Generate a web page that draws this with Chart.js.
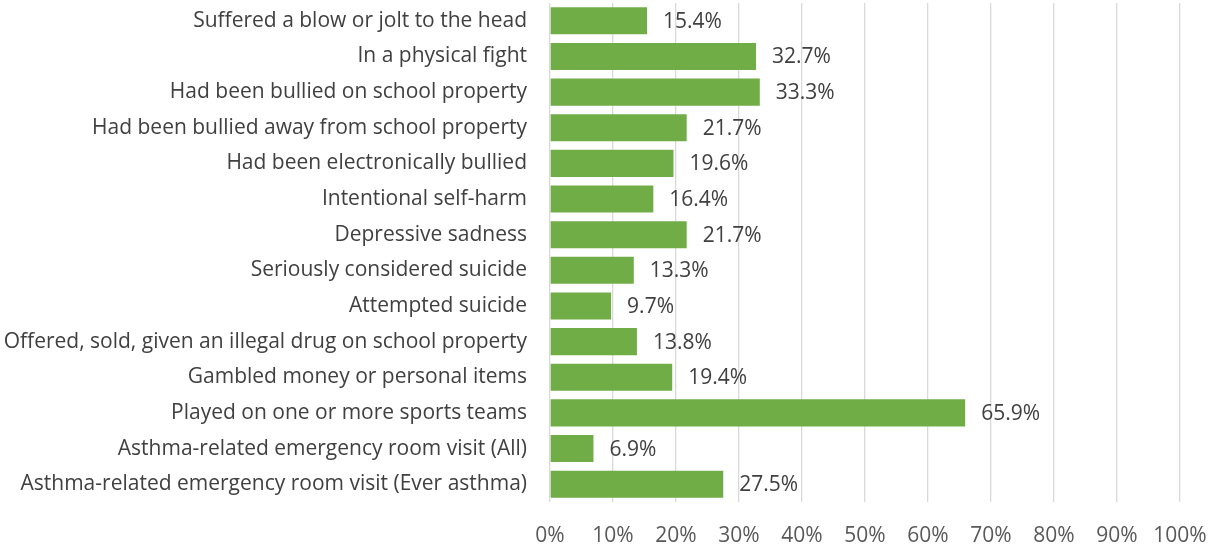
<!DOCTYPE html>
<html>
<head>
    <title>Youth risk behaviours</title>
    <script src="https://cdn.jsdelivr.net/npm/chart.js"></script>
    <style>
        html, body {
            margin: 0;
            padding: 0;
            background: #ffffff;
        }
        .chart-box {
            width: 1214px;
            height: 548px;
            position: relative;
        }
    </style>
</head>
<body>
    <div class="chart-box">
        <canvas id="barChart"></canvas>
    </div>

    <script>
        const categories = [
            'Suffered a blow or jolt to the head',
            'In a physical fight',
            'Had been bullied on school property',
            'Had been bullied away from school property',
            'Had been electronically bullied',
            'Intentional self-harm',
            'Depressive sadness',
            'Seriously considered suicide',
            'Attempted suicide',
            'Offered, sold, given an illegal drug on school property',
            'Gambled money or personal items',
            'Played on one or more sports teams',
            'Asthma-related emergency room visit (All)',
            'Asthma-related emergency room visit (Ever asthma)'
        ];
        const percentValues = [15.4, 32.7, 33.3, 21.7, 19.6, 16.4, 21.7, 13.3, 9.7, 13.8, 19.4, 65.9, 6.9, 27.5];
        const tickValues = [0, 10, 20, 30, 40, 50, 60, 70, 80, 90, 100];

        const FONT = '"Open Sans", Lato, sans-serif';
        const FONT_SIZE = 21;

        // value labels at the end of each bar
        const barLabels = {
            id: 'barLabels',
            afterDatasetsDraw(chart) {
                const c = chart.ctx;
                const meta = chart.getDatasetMeta(0);
                c.save();
                c.font = FONT_SIZE + 'px ' + FONT;
                c.fillStyle = '#404040';
                c.textAlign = 'left';
                c.textBaseline = 'middle';
                meta.data.forEach((bar, i) => {
                    c.fillText(percentValues[i].toFixed(1) + '%', bar.x + 16, bar.y + 1);
                });
                c.restore();
            }
        };

        const ctx = document.getElementById('barChart').getContext('2d');
        const chart = new Chart(ctx, {
            type: 'bar',
            data: {
                labels: categories,
                datasets: [{
                    data: percentValues,
                    backgroundColor: '#70AD47',
                    borderWidth: 0,
                    barPercentage: 1,
                    categoryPercentage: 0.76
                }]
            },
            plugins: [barLabels],
            options: {
                indexAxis: 'y',
                responsive: true,
                maintainAspectRatio: false,
                animation: false,
                layout: { padding: { top: 3, right: 34, bottom: 0, left: 0 } },
                plugins: {
                    legend: { display: false },
                    tooltip: { enabled: false }
                },
                scales: {
                    x: {
                        min: 0,
                        max: 100,
                        afterBuildTicks: s => { s.ticks = tickValues.map(v => ({ value: v })); },
                        afterFit: s => {
                            s.height = 46;
                            s.paddingLeft = 0;
                            s.paddingRight = 0;
                        },
                        grid: { color: '#D9D9D9', lineWidth: 1.3, drawTicks: false },
                        border: { display: false },
                        ticks: {
                            padding: 21,
                            maxRotation: 0,
                            color: '#595959',
                            font: { family: FONT, size: FONT_SIZE },
                            callback: v => v + '%'
                        }
                    },
                    y: {
                        afterFit: s => {
                            s.width = 550;
                            s.paddingTop = 0;
                            s.paddingBottom = 0;
                        },
                        grid: { display: false, drawTicks: false },
                        border: { display: false },
                        ticks: {
                            padding: 23,
                            color: '#404040',
                            font: { family: FONT, size: FONT_SIZE }
                        }
                    }
                }
            }
        });
    </script>
</body>
</html>
